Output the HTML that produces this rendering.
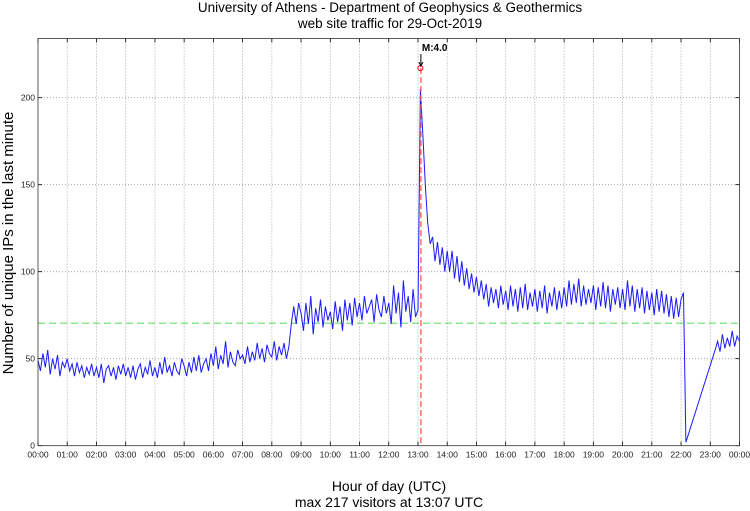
<!DOCTYPE html>
<html><head><meta charset="utf-8"><style>
body{margin:0;background:#fff;width:750px;height:511px;overflow:hidden}
svg{display:block;font-family:"Liberation Sans",sans-serif}
</style></head><body>
<svg id="c" width="750" height="511"></svg>
<script>
const xTickLabels=["00:00","01:00","02:00","03:00","04:00","05:00","06:00","07:00","08:00","09:00","10:00","11:00","12:00","13:00","14:00","15:00","16:00","17:00","18:00","19:00","20:00","21:00","22:00","23:00","00:00"];
const yTicks=[0,50,100,150,200];
const hourly=[
[49,43,53,45,55,41,50,44,52,40,48,45],
[50,43,47,40,48,42,46,39,45,41,47,40],
[45,39,47,36,44,46,40,45,38,46,41,47],
[40,45,39,46,38,44,47,39,45,41,49,40],
[45,39,48,41,51,42,46,40,48,43,41,50],
[46,40,48,42,51,43,52,42,47,50,43,53],
[46,57,44,52,47,60,45,54,48,46,55,50],
[52,47,57,48,54,49,59,50,56,48,58,53],
[51,60,49,57,52,59,50,57,70,80,70,82],
[76,66,82,70,86,64,79,71,84,68,80,72],
[77,67,83,71,80,66,84,72,82,69,85,74],
[82,72,86,76,80,84,71,87,78,74,86,76],
[82,70,92,76,88,68,95,77,86,71,90,74],
[78,205,178,150,128,116,120,106,117,104,114,100],
[112,100,112,96,109,94,106,92,102,90,99,88],
[97,86,95,84,93,80,91,82,90,79,92,81],
[89,78,92,80,90,77,91,79,93,78,88,80],
[90,77,89,79,92,76,88,80,91,78,89,79],
[91,80,95,81,93,82,96,80,92,81,90,82],
[92,78,91,80,94,79,92,77,90,81,91,79],
[90,78,95,80,92,77,90,79,91,76,89,78],
[88,75,90,77,89,76,87,74,86,73,85,74]];
const lateTimes=[1320,1325,1330,1390,1395,1400,1405,1410,1415,1420,1425,1430,1435,1440];
const lateValues=[84,88,2,55,60,54,64,56,62,57,66,57,63,60];
const peakTime=787, peakValue=217, quakeTime=786, meanValue=70.4, quakeLabel="M:4.0";

const L=38,R=739.5,T=38.5,B=445.7,YMAX=234;
const X=m=>L+(R-L)*m/1440, Y=v=>B-(B-T)*v/YMAX;
const svg=document.getElementById('c'), NS="http://www.w3.org/2000/svg";
function el(t,a,txt){const e=document.createElementNS(NS,t);for(const k in a)e.setAttribute(k,a[k]);if(txt!=null)e.textContent=txt;svg.appendChild(e);return e;}

xTickLabels.forEach((lab,i)=>{const x=X(i*60);
 if(i>0&&i<24){const g=el('line',{x1:x,x2:x,y1:T,y2:B,stroke:'#999','stroke-width':0.8,'stroke-dasharray':'1,2'});
 }
 const t=el('line',{x1:x,x2:x,y1:B,y2:B-4,stroke:'#000','stroke-width':0.8});
 const t2=el('line',{x1:x,x2:x,y1:T,y2:T+4,stroke:'#000','stroke-width':0.8});
 const tl=el('text',{x:x,y:B+12,'font-size':8.5,'text-anchor':'middle',fill:'#222'},lab);
 });
yTicks.forEach(v=>{const y=Y(v);
 if(v>0){const g=el('line',{x1:L,x2:R,y1:y,y2:y,stroke:'#999','stroke-width':0.8,'stroke-dasharray':'1,2'});}
 const t=el('line',{x1:L,x2:L+4,y1:y,y2:y,stroke:'#000','stroke-width':0.8});
 const t2=el('line',{x1:R,x2:R-4,y1:y,y2:y,stroke:'#000','stroke-width':0.8});
 const tl=el('text',{x:L-3,y:y+3,'font-size':8.5,'text-anchor':'end',fill:'#222'},v);
 });

const ml=el('line',{x1:L,x2:R,y1:Y(meanValue),y2:Y(meanValue),stroke:'#66dd66','stroke-width':1.2,'stroke-dasharray':'7,4'});


let pts=[];
hourly.forEach((row,h)=>row.forEach((v,i)=>pts.push([h*60+i*5,v])));
lateTimes.forEach((t,i)=>pts.push([t,lateValues[i]]));
pts.sort((a,b)=>a[0]-b[0]);
const s=el('polyline',{points:pts.map(p=>X(p[0]).toFixed(1)+','+Y(p[1]).toFixed(1)).join(' '),fill:'none',stroke:'#1a1aff','stroke-width':1});


const ql=el('line',{x1:X(quakeTime),x2:X(quakeTime),y1:Y(peakValue),y2:B,stroke:'#ff5555','stroke-width':1.3,'stroke-dasharray':'6,3'});

const pk=el('circle',{cx:X(peakTime)-1,cy:Y(peakValue),r:2.5,fill:'none',stroke:'#e00','stroke-width':1});

const ar=el('line',{x1:X(quakeTime),x2:X(quakeTime),y1:Y(peakValue)-14,y2:Y(peakValue)-3,stroke:'#000','stroke-width':1});

const ah=el('path',{d:`M${X(quakeTime)-2},${Y(peakValue)-6} L${X(quakeTime)},${Y(peakValue)-2} L${X(quakeTime)+2},${Y(peakValue)-6}`,fill:'none',stroke:'#000','stroke-width':1});

const qt=el('text',{x:X(quakeTime)+1,y:Y(peakValue)-17,'font-size':10,'font-weight':'bold'},quakeLabel);


const fr=el('rect',{x:L,y:T,width:R-L,height:B-T,fill:'none',stroke:'#333','stroke-width':0.8});


const t1=el('text',{x:390,y:12,'font-size':13.5,'text-anchor':'middle'},"University of Athens - Department of Geophysics & Geothermics");

const t2=el('text',{x:390,y:28,'font-size':13.5,'text-anchor':'middle'},"web site traffic for 29-Oct-2019");

const xt=el('text',{x:389,y:491,'font-size':14,'text-anchor':'middle'},"Hour of day (UTC)");

const xt2=el('text',{x:389,y:507,'font-size':14,'text-anchor':'middle'},"max 217 visitors at 13:07 UTC");

const yt=el('text',{x:0,y:0,'font-size':15,'text-anchor':'middle',transform:'translate(13,243) rotate(-90)'},"Number of unique IPs in the last minute");

</script>
</body></html>
